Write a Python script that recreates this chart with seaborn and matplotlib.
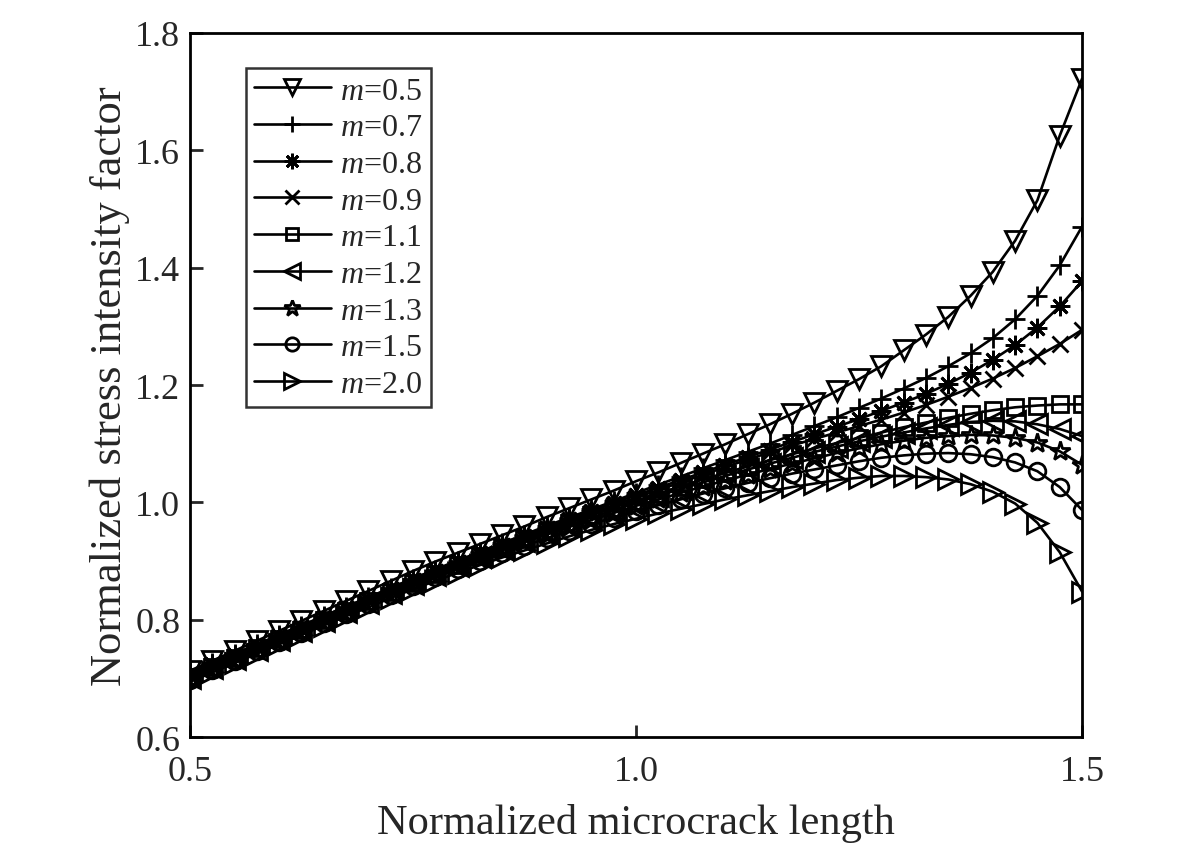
import matplotlib
matplotlib.use("Agg")
import matplotlib.pyplot as plt
import numpy as np
import pandas as pd
import seaborn as sns

# Normalized microcrack length (41 points, step 0.025)
crack_length = [0.5 + 0.025 * i for i in range(41)]

k_m05 = [0.713, 0.730, 0.747, 0.764, 0.781, 0.798, 0.815, 0.832, 0.849, 0.866,
         0.883, 0.899, 0.914, 0.929, 0.944, 0.959, 0.975, 0.990, 1.005, 1.020,
         1.036, 1.051, 1.067, 1.083, 1.099, 1.116, 1.133, 1.151, 1.170, 1.190,
         1.210, 1.232, 1.259, 1.286, 1.316, 1.352, 1.393, 1.446, 1.515, 1.625,
         1.722]
k_m07 = [0.710, 0.726, 0.742, 0.758, 0.774, 0.790, 0.806, 0.822, 0.838, 0.854,
         0.870, 0.885, 0.900, 0.915, 0.930, 0.945, 0.960, 0.974, 0.988, 1.002,
         1.016, 1.030, 1.044, 1.058, 1.072, 1.086, 1.100, 1.115, 1.130, 1.145,
         1.161, 1.177, 1.194, 1.212, 1.232, 1.254, 1.280, 1.312, 1.352, 1.404,
         1.470]
k_m08 = [0.708, 0.724, 0.740, 0.756, 0.772, 0.788, 0.804, 0.820, 0.836, 0.852,
         0.868, 0.883, 0.898, 0.913, 0.928, 0.943, 0.957, 0.971, 0.985, 0.999,
         1.012, 1.025, 1.038, 1.051, 1.064, 1.077, 1.090, 1.103, 1.116, 1.129,
         1.142, 1.156, 1.170, 1.185, 1.202, 1.221, 1.243, 1.268, 1.298, 1.334,
         1.377]
k_m09 = [0.706, 0.722, 0.738, 0.754, 0.770, 0.786, 0.802, 0.818, 0.834, 0.850,
         0.866, 0.881, 0.896, 0.911, 0.926, 0.940, 0.954, 0.968, 0.982, 0.995,
         1.008, 1.021, 1.034, 1.047, 1.060, 1.073, 1.085, 1.097, 1.108, 1.119,
         1.130, 1.141, 1.153, 1.166, 1.180, 1.195, 1.211, 1.229, 1.249, 1.270,
         1.294]
k_m11 = [0.703, 0.719, 0.735, 0.751, 0.767, 0.783, 0.799, 0.815, 0.831, 0.847,
         0.863, 0.878, 0.893, 0.908, 0.923, 0.937, 0.951, 0.965, 0.978, 0.991,
         1.003, 1.015, 1.027, 1.039, 1.050, 1.061, 1.072, 1.082, 1.092, 1.101,
         1.110, 1.119, 1.128, 1.136, 1.144, 1.151, 1.157, 1.162, 1.165, 1.167,
         1.167]
k_m12 = [0.701, 0.717, 0.733, 0.749, 0.765, 0.781, 0.797, 0.813, 0.829, 0.845,
         0.861, 0.876, 0.891, 0.906, 0.920, 0.934, 0.948, 0.961, 0.974, 0.987,
         0.999, 1.011, 1.023, 1.034, 1.045, 1.056, 1.066, 1.076, 1.086, 1.095,
         1.104, 1.112, 1.119, 1.126, 1.132, 1.137, 1.139, 1.138, 1.133, 1.125,
         1.113]
k_m13 = [0.700, 0.716, 0.732, 0.748, 0.764, 0.780, 0.796, 0.812, 0.828, 0.844,
         0.860, 0.875, 0.890, 0.904, 0.918, 0.932, 0.945, 0.958, 0.970, 0.982,
         0.994, 1.005, 1.016, 1.027, 1.037, 1.047, 1.057, 1.066, 1.075, 1.084,
         1.092, 1.099, 1.105, 1.110, 1.113, 1.115, 1.114, 1.110, 1.102, 1.087,
         1.064]
k_m15 = [0.698, 0.714, 0.730, 0.746, 0.762, 0.778, 0.794, 0.810, 0.826, 0.842,
         0.857, 0.872, 0.886, 0.900, 0.913, 0.926, 0.939, 0.951, 0.963, 0.974,
         0.985, 0.995, 1.005, 1.015, 1.024, 1.033, 1.041, 1.049, 1.056, 1.063,
         1.070, 1.076, 1.080, 1.083, 1.084, 1.082, 1.077, 1.068, 1.053, 1.026,
         0.987]
k_m20 = [0.694, 0.710, 0.726, 0.742, 0.758, 0.774, 0.790, 0.806, 0.821, 0.837,
         0.852, 0.866, 0.880, 0.893, 0.906, 0.918, 0.930, 0.942, 0.953, 0.963,
         0.972, 0.981, 0.989, 0.997, 1.005, 1.012, 1.019, 1.026, 1.032, 1.038,
         1.042, 1.045, 1.045, 1.043, 1.039, 1.031, 1.018, 0.998, 0.965, 0.915,
         0.848]

m_labels = ["0.5", "0.7", "0.8", "0.9", "1.1", "1.2", "1.3", "1.5", "2.0"]
series = [k_m05, k_m07, k_m08, k_m09, k_m11, k_m12, k_m13, k_m15, k_m20]

x_ticks = [0.5, 1.0, 1.5]
y_ticks = [0.6, 0.8, 1.0, 1.2, 1.4, 1.6, 1.8]

# marker, size for each curve
markers = ["v", "+", (8, 2, 0), "x", "s", "<", "*", "o", ">"]
msizes = [14, 15, 14, 12, 11, 14, 15, 12, 14]

sns.set_theme(style="ticks")
plt.rcParams["font.family"] = ["Liberation Serif", "DejaVu Serif"]
plt.rcParams["mathtext.fontset"] = "custom"
plt.rcParams["mathtext.it"] = "Liberation Serif:italic"
plt.rcParams["mathtext.rm"] = "Liberation Serif"

fig = plt.figure(figsize=(12, 8.54), dpi=100)
ax = fig.add_axes([0.1583, 0.1358, 0.7434, 0.8244])

for lab, vals, mk, ms in zip(m_labels, series, markers, msizes):
    df = pd.DataFrame({"x": crack_length, "y": vals})
    sns.lineplot(data=df, x="x", y="y", ax=ax, color="black", lw=1.9,
                 marker=mk, markersize=ms, markerfacecolor="none",
                 markeredgecolor="black", markeredgewidth=2.0,
                 label=f"$m$=" + lab, estimator=None, sort=False)

ax.set_xlim(0.5, 1.5)
ax.set_ylim(0.6, 1.8)
ax.set_xticks(x_ticks)
ax.set_xticklabels([f"{v:.1f}" for v in x_ticks])
ax.set_yticks(y_ticks)
ax.set_yticklabels([f"{v:.1f}" for v in y_ticks])
ax.tick_params(direction="in", length=9, width=2, labelsize=26)
ax.tick_params(axis="x", pad=13)
ax.tick_params(axis="y", pad=7)
for sp in ax.spines.values():
    sp.set_linewidth(2)
    sp.set_color("black")

ax.set_xlabel("Normalized microcrack length", fontsize=30.5, labelpad=11)
ax.set_ylabel("Normalized stress intensity factor", fontsize=32, labelpad=4)

leg = ax.legend(loc="upper left", bbox_to_anchor=(0.063, 0.95), fontsize=23,
                frameon=True, fancybox=False, edgecolor="black",
                markerscale=0.8, handlelength=2.4, handletextpad=0.3,
                labelspacing=0.23, borderpad=0.25, borderaxespad=0)
leg.get_frame().set_linewidth(1.8)

fig.savefig("out.png", dpi=100)
